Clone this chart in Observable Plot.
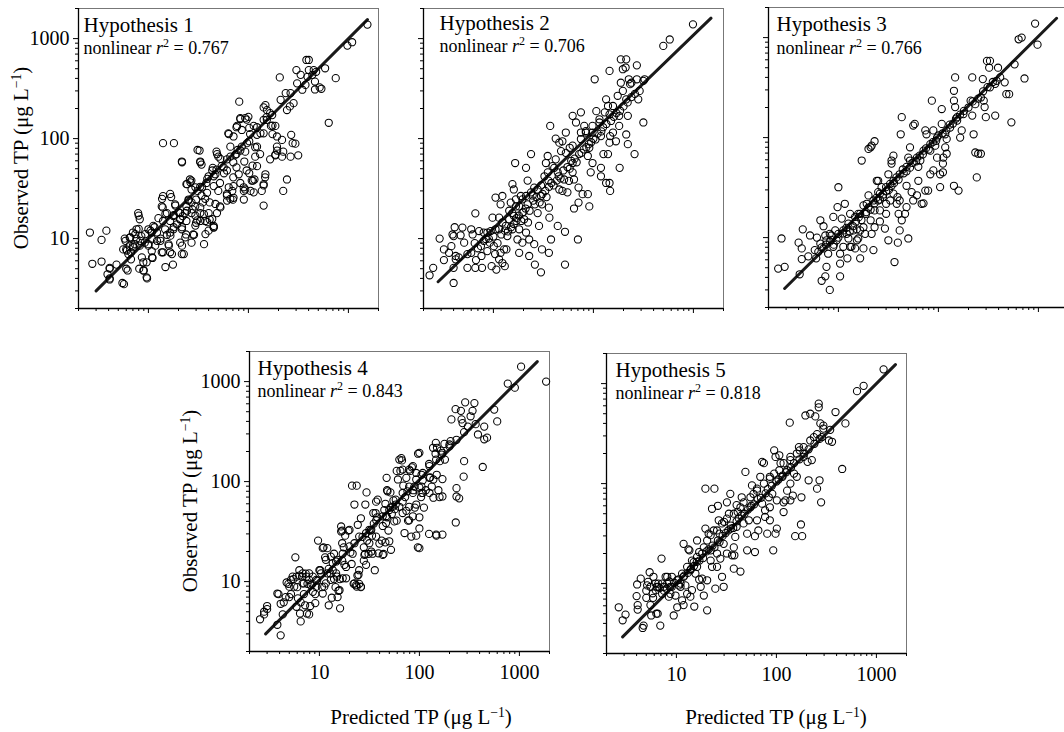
<!DOCTYPE html>
<html><head><meta charset="utf-8">
<script src="https://cdn.jsdelivr.net/npm/d3@7"></script>
<script src="https://cdn.jsdelivr.net/npm/@observablehq/plot@0.6"></script>
<style>
html,body{margin:0;padding:0;background:#fff;}
#chart{position:relative;width:1064px;height:732px;overflow:hidden;font-family:"Liberation Serif","Times New Roman",serif;color:#000;}
#chart svg{position:absolute;}
.ylab,.xlab{position:absolute;font-size:21px;white-space:nowrap;line-height:1;}
.ylab{transform:translate(-50%,-50%) rotate(-90deg);}
.xlab{transform:translate(-50%,-50%);}
sup{font-size:65%;position:relative;top:-0.55em;vertical-align:baseline;}
</style>
</head><body>
<div id="chart"></div>
<script>
const titles = ["Hypothesis 1","Hypothesis 2","Hypothesis 3","Hypothesis 4","Hypothesis 5"];
const r2 = ["0.767","0.706","0.766","0.843","0.818"];
const majorTicks = [10,100,1000];
const minorTicks = [2,3,4,5,6,7,8,9,20,30,40,50,60,70,80,90,200,300,400,500,600,700,800,900,2000];
const xTitle = "Predicted TP (μg L";
const yTitle = "Observed TP (μg L";

// fitted nonlinear relation: [predicted, observed] at both ends
const fit1 = [[3,3],[1550,1550]];
const fit2 = [[2.8,3.7],[1500,1600]];
const fit3 = [[2.9,3.1],[1520,1560]];
const fit4 = [[2.9,3.0],[1510,1585]];
const fit5 = [[2.9,2.93],[1550,1550]];

// [predicted, observed] pairs
const h1 = [[2.6,11.5],[2.75,5.6],[3.4,9.7],[3.8,12],[3.4,5.9],[4.1,5.1],[3.9,4.4],[4.1,4.0],[4.8,5.5],[5.5,3.6],[6.0,5.0],[5.6,7.8],[5.8,10],[6.5,10.2],[7.0,11.5],[7.6,12.4],[7.9,18],[8.2,15.6],[6.7,6.2],[8.1,5.0],[8.9,4.8],[9.6,4.1],[8.9,5.8],[9.6,5.8],[11,6.4],[11.7,8.5],[13.6,7.3],[13.2,10],[10.8,10],[10.8,11.5],[10,12.4],[11.2,13.4],[14,15],[15.3,18],[13.6,21],[14,26.6],[14,90],[18,90],[14.7,12.4],[15.3,10.9],[15.9,8.8],[16.5,7.3],[17.6,5.5],[16.5,15],[17.8,16.8],[16.5,28],[18.5,22],[20.8,18],[21.6,12.4],[20.8,9.1],[21.6,7],[23.8,11],[21.6,59],[24,35],[26,39],[27,23],[27,31],[28,11],[27,9.1],[30,14.4],[33,18],[31,77],[33,59],[34,55],[31,30],[34,27],[37,25],[36,8.8],[40,18],[41,15.5],[45,12.9],[41,23],[45,33.5],[40,42],[44,51],[48,74],[50,66],[52,36],[57,45],[61,62],[66,83],[61,27],[66,25],[71,33.5],[63,113],[71,105],[77,134],[83,160],[81,234],[93,160],[100,165],[102,128],[86,122],[97,90],[93,74],[91,59],[80,44],[83,36],[102,45],[90,30],[93,31],[111,38],[113,29],[115,39],[122,53],[117,66],[122,83],[142,154],[153,193],[148,216],[113,134],[142,113],[168,134],[173,172],[186,134],[193,105],[217,97],[193,83],[186,69],[206,409],[243,193],[283,226],[264,285],[268,109],[295,89],[315,68],[223,30],[243,39],[260,210],[302,484],[333,434],[346,308],[380,611],[402,611],[402,484],[372,344],[450,484],[463,372],[463,310],[516,325],[537,315],[585,505],[636,144],[747,402],[977,852],[1090,920],[1550,1380],[33,33],[38,36],[45,42],[48,49],[54,53],[66,66],[74,69],[78,77],[86,83],[102,94],[122,109],[132,113],[153,154],[165,180],[210,244],[236,285],[307,357],[390,415],[436,434],[476,465],[12.2,11.5],[12.6,16],[16.5,11.5],[17.8,12.4],[19.3,13.9],[20.8,15.5],[22,16.8],[23.3,18],[24,21],[25.2,24.6],[27,18],[29.4,21],[30,24.6],[35,23],[38.6,28.7],[24,15],[33,15],[37,15],[45,13.4],[48.5,18],[52,21],[50,30],[61,28],[69,30],[71,25.6],[90,24.6],[105,30],[142,35],[148,44],[165,62],[217,66],[223,74],[264,66],[277,90],[6.0,7.8],[6.5,8.5],[7.3,8.8],[7.6,10],[8.5,10.6],[9.2,9.1],[10,8.5],[10.8,7.5],[8.2,8.5],[6.3,7],[6.7,7.3],[7,8.5]];
const h1more = [[4.1,5.0],[4.1,3.9],[5.7,3.5],[6.2,4.8],[5.9,9.5],[6.1,7.6],[6.6,10.3],[7.1,8.2],[7.4,11.1],[8.0,12.5],[8.0,17],[8.3,9.5],[8.6,6.5],[9.0,4.8],[9.7,4.0],[9.3,11.1],[10,8.8],[10.5,12],[10.9,6.5],[11.5,13],[12.2,9.5],[13.2,9.5],[14,7.3],[14.8,5.2],[16,8.5],[16.6,10.7],[17.2,7.0],[17.9,13],[16.9,26],[13.7,25],[13.9,20.5],[14.8,17.7],[17.9,17.2],[18.6,21.4],[20,18.3],[20.8,15.7],[21.7,13],[21.7,8.5],[22.6,7],[23.4,10.3],[24.3,19],[25.2,24],[26.3,36.6],[27.5,19.6],[29.5,17],[29.5,13.5],[28.6,10.9],[30.8,15.2],[33,20.5],[34.4,32.6],[35.9,17.6],[37.2,11.1],[38.8,14.6],[40,12],[43.5,15.7],[45,13],[46.8,22.2],[52.5,20.5],[61.2,24],[70,24.5],[33,58],[21.7,58],[32.5,76],[24.4,35],[26.9,38],[29.5,32.6],[38.8,39.6],[43.5,48],[46.8,44],[48.6,70],[52.5,62.8],[56.6,51.6],[61,48],[63.6,32.6],[70.6,41],[76,51.6],[70.6,58],[76,70],[83,76],[89.7,32.6],[96,48],[108,38],[110,53.7],[117,82],[131,70],[136,30],[142,34],[147,41],[142,21.4],[63.6,111],[76,130],[83,157],[96,155],[104,111],[122,130],[152,164],[174,135],[174,111],[194,76],[186,68],[142,205]];

const h2 = [[2.3,4.3],[2.5,5.1],[2.9,10],[3.2,7.8],[3.2,6.1],[3.6,7.2],[3.8,8.4],[3.9,11],[4,10.6],[4.0,5.1],[4.2,6.2],[4.1,13],[4.0,3.6],[4.2,6.7],[4.7,10.8],[4.9,12.9],[5.1,9.1],[5.5,5.1],[6,12.4],[6.2,11],[6.6,17.9],[6.6,5.1],[6.7,6.1],[7.2,11.9],[7.6,6.7],[8,11.5],[8.4,9.9],[8.7,7.5],[9.2,9.1],[9.6,5.3],[10.1,8.4],[10.4,7],[10.7,4.9],[10.5,12.4],[10.5,25.7],[9.8,16.2],[11.4,16.2],[11.8,22],[11.8,7.2],[12.8,7.8],[12.3,26.7],[13.3,13.4],[13.5,7.8],[13.8,10.6],[14.4,19],[14.9,22.9],[15.5,35],[16,31],[16,16.9],[16.8,21],[17,15],[17.4,9.8],[18.1,7.2],[18.8,26.7],[19.5,18.2],[20.3,15.6],[21.2,11.5],[22.2,14.5],[16.5,57],[21.2,51],[22,38],[23.8,70],[25.6,32.4],[25.6,8.8],[26,5.5],[27.7,18],[28.6,13.4],[29.9,4.6],[30.6,7.8],[29.9,26.7],[30.6,22],[32.4,42],[33.5,57],[34.9,67],[35.5,38],[35.9,20.4],[36.3,16.2],[37.7,9.8],[35.9,7.2],[37,134],[42,100],[45.6,91],[47.5,75],[49,94],[40.6,51],[44,46],[45.6,31],[49,30],[51,39],[57,37.8],[55,29],[44,13.4],[52,11.7],[53,115],[58,81],[62,57],[62,46],[64,39],[64,20],[71,32.4],[71,22.9],[78,27.8],[88,27.8],[91,21],[70,9.8],[52,5.5],[62,169],[67,145],[75,183],[75,115],[81,134],[84,119],[88,67],[91,81],[94,46],[98,57],[98,115],[103,392],[107,188],[115,156],[119,106],[126,70],[119,42],[119,51],[134,247],[140,212],[145,175],[147,106],[145,91],[140,70],[134,36],[145,36],[147,30],[145,475],[157,115],[168,94],[181,134],[183,51],[181,169],[188,362],[197,494],[188,620],[213,620],[210,514],[197,300],[213,247],[221,169],[213,110],[221,88],[226,392],[233,350],[240,362],[258,70],[272,392],[272,540],[281,247],[316,378],[325,392],[316,145],[500,845],[580,980],[990,1390],[24.7,27],[27.7,31],[30,34],[35,46],[39,53],[42,62],[53,72],[62,85],[75,99],[84,115],[98,134],[115,145],[130,183],[157,212],[175,268],[8.7,11.5],[9.4,11.9],[11.4,12.4],[12.3,14.5],[14.4,15.6],[15.5,18],[18.1,21],[19.5,24.7],[21.2,26.7],[23.8,29],[16.8,24.7],[15.5,12.4],[18.1,12.4],[19.5,9.1],[22.8,9.8],[22.8,6.7],[7.5,8.4],[6,7.2],[7.7,5.1],[11.4,6.2],[12.3,5.7],[13,5.3]];
const h2more = [[9,10],[10,10.5],[11,9],[12,11],[13,12],[14,11.8],[15,13],[16,14],[17,16],[18,17],[19,15],[20,18.5],[21,20],[22,22],[23,19],[25,24],[26,22],[27,26],[29,23],[31,28],[33,30],[34,26],[36,33],[38,36],[40,34],[43,38],[45,42],[47,40],[50,48],[55,52],[58,50],[60,60],[65,63],[68,58],[72,70],[76,72],[80,78],[85,82],[90,88],[95,92],[100,100],[105,98],[110,112],[120,118],[125,130],[135,140],[150,150],[160,165],[170,180],[185,190],[200,210],[220,230],[240,260],[260,280],[290,300],[7,8],[8,9.5],[5.5,7],[6.5,9],[4.5,6.5]];

const h3 = [[2.5,4.9],[2.9,5.1],[2.7,9.8],[4.0,8.9],[4.3,7.8],[4.3,6.1],[4.4,12.1],[4.1,4.3],[5.2,10.5],[6.1,10],[6,6.2],[6.6,14.9],[7.1,13],[6.8,3.7],[7.4,10.5],[7.4,4.1],[7.6,5.1],[8.2,3.0],[7.9,6.9],[8.2,9.1],[8.5,10.5],[8.9,8.1],[8.9,16.1],[9.3,11.8],[9.8,20.2],[10,31.9],[10,10.9],[10.4,6.9],[10.4,5.5],[10.4,4.1],[10.8,15.5],[11.2,8.1],[11.6,21.8],[12.1,10.9],[12.3,6.2],[12.6,9.8],[13.1,17.3],[13.5,8.1],[14.1,11.8],[14.7,7.8],[15.3,12.1],[15.8,9.8],[15.8,17.3],[16.5,6.2],[17.1,59],[17.8,7.8],[18.5,10.9],[18.9,17.3],[19.2,21.8],[20,77],[21,80],[21.5,83],[23,92],[20,26.4],[21,14.9],[21.5,10.9],[22.4,7.5],[23,18.7],[24.2,37],[25,37],[25,28.5],[25,23.5],[26,14.5],[27,32],[27.9,25.4],[29.2,12.3],[30,17.3],[31.6,43],[32.9,34.5],[31.6,9.4],[34,59],[34,55],[35.5,66],[35.5,27.5],[36.4,5.7],[38.3,21.8],[39,25.4],[40,17.3],[39.3,8.9],[41,11.8],[43,14.9],[43,160],[42,108],[46.4,17.3],[48,51],[48,33],[50,9.8],[50,63],[52,80],[54,28.5],[56,132],[58,137],[61,26.5],[63,51],[66,59],[68,21.8],[71,22],[74,118],[76,108],[74,29.5],[79,29.5],[83,74],[86,234],[89,118],[93,83],[97,63],[108,193],[108,137],[104,32],[111,55],[111,45],[117,80],[121,97],[143,234],[143,294],[147,400],[147,202],[154,160],[143,33],[159,29.5],[165,100],[171,118],[210,234],[218,166],[218,400],[225,108],[234,71],[250,69],[266,69],[242,40],[284,234],[290,202],[298,160],[278,385],[306,585],[328,585],[322,500],[370,345],[382,370],[370,166],[395,500],[460,357],[478,272],[510,272],[537,142],[578,540],[726,390],[634,962],[680,1000],[927,1380],[980,850],[11.2,11.8],[12.6,13.8],[14.7,16.1],[16.5,17.3],[17.8,21],[22.4,23.5],[26,27.5],[30,32],[35.5,37],[41,43],[44,48],[52,59],[61,63],[71,74],[83,86],[97,100],[117,108],[131,126],[154,148],[178,172],[234,216],[266,252],[328,318],[415,400],[6.6,8.7],[7.1,7.8],[7.6,9.4],[8.2,10.9],[6.3,7.2],[9.6,9.4],[13.1,8.1],[15.3,9.4],[16.5,11.8],[17.8,12.7],[23,12.7],[26,18.7],[30,21.8],[33,23.5],[41,23.5],[48,20.2],[56,23.5],[63,37],[83,43],[104,43],[112,63],[121,69],[89,47]];
const h3more = [[5,6.5],[5.8,7.5],[6.8,8],[7.5,8.5],[8.5,9.5],[9,8.5],[10,10],[11,11],[12,12.5],[13,11.5],[14,13],[15,14.5],[16,16],[17,15],[19,18],[20,20],[21,19],[23,22],[24,25],[26,24],[28,27],[30,29],[32,30],[34,33],[36,35],[38,40],[40,38],[45,44],[48,46],[52,50],[55,56],[60,58],[65,66],[70,68],[75,78],[80,76],[88,90],[95,93],[100,105],[110,110],[120,118],[130,135],[140,138],[150,155],[165,170],[180,185],[200,200],[220,230],[250,245],[280,290],[310,320],[350,360]];

const h4 = [[2.55,4.2],[2.8,5],[3,5.7],[3.8,7.6],[3.8,3.7],[4.1,2.9],[4.1,6],[4.7,9.8],[5,7],[5.2,10.4],[5.4,11.2],[5.75,17.5],[5.6,8.9],[5.9,5.6],[6.1,6.8],[6.3,13],[6.4,4.8],[6.5,4],[6.8,12.1],[7,9.6],[7.2,5.8],[7.4,11.2],[7.5,4.8],[7.9,10.4],[8.2,9.2],[8.6,7.9],[9.1,6.1],[9.3,8.9],[9.7,25.7],[10,13],[10.4,12.1],[10.8,7.6],[11.2,8.9],[10.8,21.6],[11.6,16.5],[12,21.6],[12.4,5.8],[13,10.4],[13,17.8],[13.6,13],[14,19],[14.7,15.9],[15.2,7],[15.9,8.2],[16.1,5.4],[16.5,31.7],[16.5,35.6],[16.9,24.2],[17.1,10.8],[17.8,14.7],[18.5,10.8],[20,32.9],[21.2,91],[23.6,91],[22.4,59],[22.4,9.6],[23.6,8.9],[24.6,11.7],[26,8.9],[24.2,37],[26,43],[27,28],[28.2,18.5],[29.3,14.7],[28.8,59],[29.6,78],[31.6,33],[33,20],[34,19],[34.6,48.5],[36.5,48.5],[36.9,63],[38.3,66],[39.8,24],[43,18.5],[44.6,52],[46.4,38.5],[47,109],[48,80],[50,25.3],[52,20.8],[56,40],[58,66],[61,105],[63,166],[66,172],[68,132],[68,63],[71,30.6],[74,109],[76,80],[79,41],[83,28.2],[86,45],[89,89],[93,59],[100,194],[105,117],[105,77],[100,34],[100,21.6],[126,109],[133,89],[138,69],[146,244],[150,218],[160,160],[167,186],[147,29.5],[170,29.5],[170,71],[180,166],[200,235],[205,254],[209,419],[230,530],[235,86],[235,71],[231,39],[250,68],[260,510],[264,419],[270,385],[280,160],[277,112],[280,312],[287,620],[305,355],[325,450],[340,510],[355,610],[365,375],[385,296],[430,140],[445,265],[445,355],[475,275],[560,525],[600,400],[765,955],[900,870],[1040,1410],[1850,1000],[12,12.1],[13.6,15.3],[15.2,16.5],[17.1,19],[20,22.5],[22.4,24.2],[25,28.2],[29.3,30.6],[33,33],[37,41],[43,45],[50,52],[58,59],[68,77],[79,89],[93,105],[108,122],[126,143],[147,166],[170,194],[200,225],[235,262],[7.9,12.1],[8.6,11.2],[9.3,10.4],[6.8,9.6],[5,8.9],[4.6,7],[5.9,11.2],[11.6,9.6],[14.7,12.1],[18.5,14],[21.5,19],[31.6,24.2],[36.9,28.2],[43,36],[46.4,45],[54,56],[63,56],[68,48.5],[79,56],[86,77],[105,89],[108,77],[126,77],[138,105],[79,132],[86,143],[93,122]];
const h4more = [[2.8,4.7],[3.0,5.3],[3.9,7.5],[4.4,6.2],[4.3,4.7],[4.9,9.5],[5.2,7.5],[5.5,10.6],[6.0,8.8],[6.3,11.5],[6.5,6.2],[6.7,11.2],[7.0,7.5],[7.3,12],[7.6,9.5],[7.9,4.7],[8.1,5.7],[8.5,9.5],[9.1,7.5],[9.5,10.2],[10.2,13],[10.6,8.8],[11,22],[11.4,17.5],[12.4,13.4],[12.9,12],[13.3,6.9],[14,10.6],[14.5,8.8],[15,11.2],[15.5,8.1],[16,10.6],[16.9,16.2],[17.5,22],[16.9,32.4],[18.1,28.8],[19.5,32.4],[20.4,19.6],[21,15],[22,9.5],[23.3,9.2],[24,11.5],[25,9.5],[26,8.8],[25,13],[27.8,16.2],[28.6,18.9],[27.8,22],[30,25.7],[31,18.9],[32.4,32.4],[33.6,28.8],[35,38],[35.8,13],[37.8,44],[39,19.2],[42,25.7],[43.8,18.9],[45.7,60],[45.7,24.7],[47.5,44],[49,32.4],[51.3,78],[51.3,55],[53,47.5],[55,65],[57,53],[59.3,40.7],[59.3,128],[64.6,128],[67,163],[69,91],[72,70],[74,51],[77,40.7],[81,128],[84,139],[87,82],[90,55],[93,28.8],[96.5,22],[100,44],[100,87],[104,70],[108,103],[111,55],[116,82],[125,150],[128,110],[137,218],[145,190],[149,117],[155,82],[159,70],[164,204],[170,106],[178,238],[125,30],[148,28.8],[97,190],[47.5,82]];

const h5 = [[2.65,5.8],[2.9,4.3],[3.1,4.9],[4.0,7.5],[4.05,9.8],[4.1,6.1],[4.1,5.5],[4.4,11.2],[4.7,3.8],[4.6,3.6],[5.0,7.2],[5.2,10.4],[5.4,13],[5.5,6.1],[5.6,4.8],[5.85,7.2],[5.9,11.7],[6.2,10],[6.3,5],[6.4,9.3],[6.5,5],[6.6,10],[6.9,3.8],[7.1,17.8],[7.2,7.9],[7.8,11.7],[8.1,11.7],[8.4,7.4],[8.7,9.3],[9.0,11.7],[9.4,4.8],[9.8,7.6],[10.2,5.8],[10.6,9.6],[11,9.3],[11.4,6.8],[11.8,25],[11.8,6.1],[12.3,9.6],[12.8,7.9],[13.2,22],[13.5,21.5],[13.8,7.4],[14.3,8.6],[14.9,16.4],[15.1,5.9],[15.5,12.6],[16.1,27],[16.9,20.7],[16.9,11],[17.5,9.3],[18.1,11.2],[18.8,7.6],[19.5,89],[24,89],[19.5,35.5],[20.3,10.8],[20.3,5.4],[21,31.6],[22,21.5],[22.7,56],[22.7,14.7],[23.6,34],[24.5,8.9],[25.5,20],[26,60],[26.5,43],[27,31.6],[27.5,17.8],[28.6,11.7],[29.7,9.3],[29.7,25],[30,41.5],[32,65],[33.5,50],[34.6,79],[35,35.5],[36,19.2],[37.5,14.1],[38,19.2],[38.8,29.3],[40,61],[41,52],[43.7,13.2],[45,73],[47,40],[49,131],[51,21.5],[53,43],[55,58],[57,96],[59,79],[61,29.8],[61,20.7],[64,89],[66,34],[69,117],[72,165],[75,160],[77,46.4],[77,54],[81,31.6],[84,73],[86,43],[86,112],[91,79],[93,21.5],[95,215],[98,185],[98,31.6],[101,35.5],[107,192],[110,160],[115,117],[118,65],[118,52],[123,68],[128,136],[136,407],[138,185],[138,68],[146,76],[150,126],[154,29.8],[168,232],[171,215],[176,39],[178,73],[181,29.8],[187,185],[195,480],[205,165],[210,108],[218,500],[226,172],[237,292],[245,470],[255,89],[265,630],[265,580],[270,108],[280,65],[275,400],[285,292],[295,355],[335,270],[360,262],[345,345],[390,520],[455,140],[490,400],[640,840],[745,950],[1180,1390],[7.5,9.3],[8.1,10],[8.7,7.9],[10.2,10.8],[11.4,12.6],[12.8,14.7],[14.3,17],[16.1,18.5],[18.1,20],[18.8,23],[20.3,27],[22,30.5],[25.5,34],[28.6,40],[32,44.7],[37.5,50],[43.7,58],[47,65],[55,73],[64,85],[75,100],[86,117],[95,126],[107,136],[118,160],[138,172],[160,200],[187,232],[218,270],[255,312],[295,380],[5.1,9.6],[5.5,9.3],[6.2,8.6],[6.6,9.3],[7.2,10],[9,9.3],[11.8,11.7],[13.8,13.6],[16.1,14.7],[22,17],[25.5,14.7],[32,20],[37.5,23],[40,37],[51,31.6],[64,43],[72,63],[86,58],[101,68],[128,85],[138,100],[160,117]];
const h5more = [[5,8.5],[5.8,8],[6.8,9],[7.5,8.5],[8,8.8],[8.5,10.5],[9.5,10.2],[10.5,11],[11,10],[12,12],[13,12.8],[14,14],[15,15],[16,16.5],[17,17],[18.5,18],[20,21],[21,22],[23,24],[24,23],[26,27],[27,26],[29,30],[31,32],[33,34],[35,38],[37,36],[40,42],[42,45],[45,48],[48,50],[52,55],[56,60],[60,62],[65,70],[70,72],[78,80],[82,88],[90,95],[100,105],[105,110],[115,120],[125,130],[140,145],[150,160],[170,175],[190,200],[210,220],[240,250],[270,280]];

const datasets = [h1.concat(h1more), h2.concat(h2more), h3.concat(h3more), h4.concat(h4more), h5.concat(h5more)];
const fits = [fit1,fit2,fit3,fit4,fit5];

// layout of each panel (frame top-left corner in page pixels)
const layout = [
  {left:78,  top:8,   yLab:true,  xLab:false, dx:5,  b1:23, b2:45},
  {left:423, top:8,   yLab:false, xLab:false, dx:16, b1:21, b2:43},
  {left:768, top:7,   yLab:false, xLab:false, dx:8,  b1:23, b2:46},
  {left:249, top:351, yLab:true,  xLab:true,  dx:8,  b1:23, b2:45},
  {left:606, top:353, yLab:false, xLab:true,  dx:9,  b1:23, b2:45}
];

const chart = document.getElementById("chart");
const FONT = "'Liberation Serif','Times New Roman',serif";
const ml = 50, mr = 10, mt = 10, mb = 40;
const blank = () => "";

layout.forEach((cfg, i) => {
  const pts = datasets[i].map(([x, y]) => ({x, y}));
  const fit = fits[i].map(([x, y]) => ({x, y}));
  const svg = Plot.plot({
    width: 300 + ml + mr, height: 300 + mt + mb,
    marginLeft: ml, marginRight: mr, marginTop: mt, marginBottom: mb,
    x: {type: "log", domain: [2, 2000], label: null},
    y: {type: "log", domain: [2, 2000], label: null},
    style: {fontFamily: FONT, fontSize: "20px", background: "transparent", color: "#000", overflow: "visible"},
    marks: [
      Plot.frame({stroke: "#777", strokeWidth: 1}),
      Plot.axisX(majorTicks, {tickSize: 5, tickPadding: 8, fontSize: 20, fontFamily: FONT, label: null, tickFormat: cfg.xLab ? (d => String(d)) : blank}),
      Plot.axisX(minorTicks, {tickSize: 3, label: null, tickFormat: blank}),
      Plot.axisY(majorTicks, {tickSize: 5, tickPadding: 4, fontSize: 20, fontFamily: FONT, label: null, tickFormat: cfg.yLab ? (d => String(d)) : blank}),
      Plot.axisY(minorTicks, {tickSize: 3, label: null, tickFormat: blank}),
      Plot.ruleX([2], {stroke: "#000", strokeWidth: 1.3}),
      Plot.ruleY([2], {stroke: "#000", strokeWidth: 1.3}),
      Plot.line(fit, {x: "x", y: "y", stroke: "#1a1a1a", strokeWidth: 3}),
      Plot.dot(pts, {x: "x", y: "y", r: 3.6, stroke: "#000", strokeWidth: 1.05, fill: "none"}),
      Plot.text([titles[i]], {text: d => d, frameAnchor: "top-left", textAnchor: "start", lineAnchor: "top", dx: cfg.dx, dy: cfg.b1 - 0.71 * 21, fontSize: 21, fontFamily: FONT, fill: "#000"}),
      Plot.text([`nonlinear r2 = ${r2[i]}`], {text: d => d, frameAnchor: "top-left", textAnchor: "start", lineAnchor: "top", dx: cfg.dx, dy: cfg.b2 - 0.71 * 18, fontSize: 18, fontFamily: FONT, fill: "#000"})
    ]
  });
  svg.style.left = (cfg.left - ml) + "px";
  svg.style.top = (cfg.top - mt) + "px";
  // italic r with superscript 2
  svg.querySelectorAll("text").forEach(t => {
    const s = t.textContent;
    if (!s.startsWith("nonlinear")) return;
    const m = s.match(/^(.*?)r2(.*)$/);
    while (t.firstChild) t.removeChild(t.firstChild);
    const NS = "http://www.w3.org/2000/svg";
    const mk = (txt, attrs) => { const e = document.createElementNS(NS, "tspan"); e.textContent = txt; for (const k in attrs) e.setAttribute(k, attrs[k]); t.appendChild(e); };
    mk(m[1], {});
    mk("r", {"font-style": "italic"});
    mk("2", {"font-size": "12", "dy": "-7"});
    mk(m[2], {"dy": "7"});
  });
  chart.appendChild(svg);
});

function addLabel(cls, text, cx, cy) {
  const d = document.createElement("div");
  d.className = cls;
  d.innerHTML = text + "<sup>−1</sup>)";
  d.style.left = cx + "px";
  d.style.top = cy + "px";
  chart.appendChild(d);
}
addLabel("ylab", yTitle, 21, 158);
addLabel("ylab", yTitle, 190, 501);
addLabel("xlab", xTitle, 421, 717);
addLabel("xlab", xTitle, 776, 717);
</script>
</body></html>
